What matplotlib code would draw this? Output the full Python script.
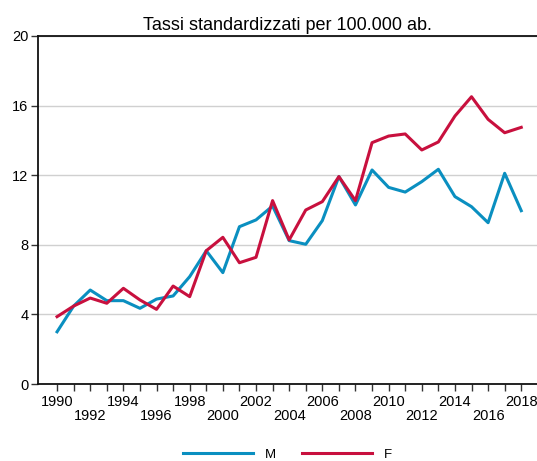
import matplotlib
matplotlib.use("Agg")
import matplotlib.pyplot as plt

years = list(range(1990, 2019))
male = [3.0, 4.48, 5.4, 4.79, 4.79, 4.35, 4.88, 5.06, 6.17, 7.66, 6.4, 9.04, 9.43, 10.23,
        8.24, 8.03, 9.39, 11.92, 10.29, 12.3, 11.3, 11.03, 11.63, 12.34, 10.77, 10.19,
        9.27, 12.11, 9.96]
female = [3.87, 4.48, 4.94, 4.64, 5.5, 4.83, 4.29, 5.63, 5.02, 7.66, 8.43, 6.97, 7.28, 10.54,
          8.28, 10.0, 10.48, 11.92, 10.54, 13.87, 14.25, 14.37, 13.45, 13.91, 15.4, 16.51,
          15.21, 14.44, 14.75]
yticks = [0, 4, 8, 12, 16, 20]
title = "Tassi standardizzati per 100.000 ab."
series_names = ["M", "F"]
colors = ["#0a8fc0", "#c8103e"]

plt.rcParams['font.family'] = ['Liberation Sans', 'DejaVu Sans']

fig = plt.figure(figsize=(5.37, 4.61), dpi=100)
ax = fig.add_axes([38/537, 1-384/461, 1-38/537, (384-36)/461])

ax.plot(years, male, color=colors[0], lw=2.2, label=series_names[0], zorder=3)
ax.plot(years, female, color=colors[1], lw=2.2, label=series_names[1], zorder=3)

ax.set_ylim(0, 20)
ax.set_xlim(1988.85, 2018.95)
ax.set_yticks(yticks)
ax.set_yticklabels([str(t) for t in yticks], fontsize=10.5)
ax.yaxis.grid(True, color="#d0d0d0", lw=1)
ax.set_axisbelow(True)

ax.set_xticks(years)
labels = []
for i, y in enumerate(years):
    if i % 2 == 1:
        labels.append("")
    elif (i // 2) % 2 == 0:
        labels.append(str(y))
    else:
        labels.append("\n" + str(y))
ax.set_xticklabels(labels, fontsize=10.5, linespacing=1.0)
ax.tick_params(axis='x', direction='out', length=5, width=1, color='#333333', pad=3)
ax.tick_params(axis='y', direction='out', length=5, width=1, color='#333333', pad=2)

for s in ['left', 'bottom', 'top']:
    ax.spines[s].set_color('#111111')
    ax.spines[s].set_linewidth(1.3)
ax.spines['right'].set_visible(False)

ax.set_title(title, fontsize=13, pad=4)

fig.legend(loc='lower center', bbox_to_anchor=(0.535, -0.025), ncol=2, frameon=False,
           fontsize=9.5, handlelength=5.3, handletextpad=0.9, columnspacing=2.0)

fig.savefig("out.png", dpi=100)
